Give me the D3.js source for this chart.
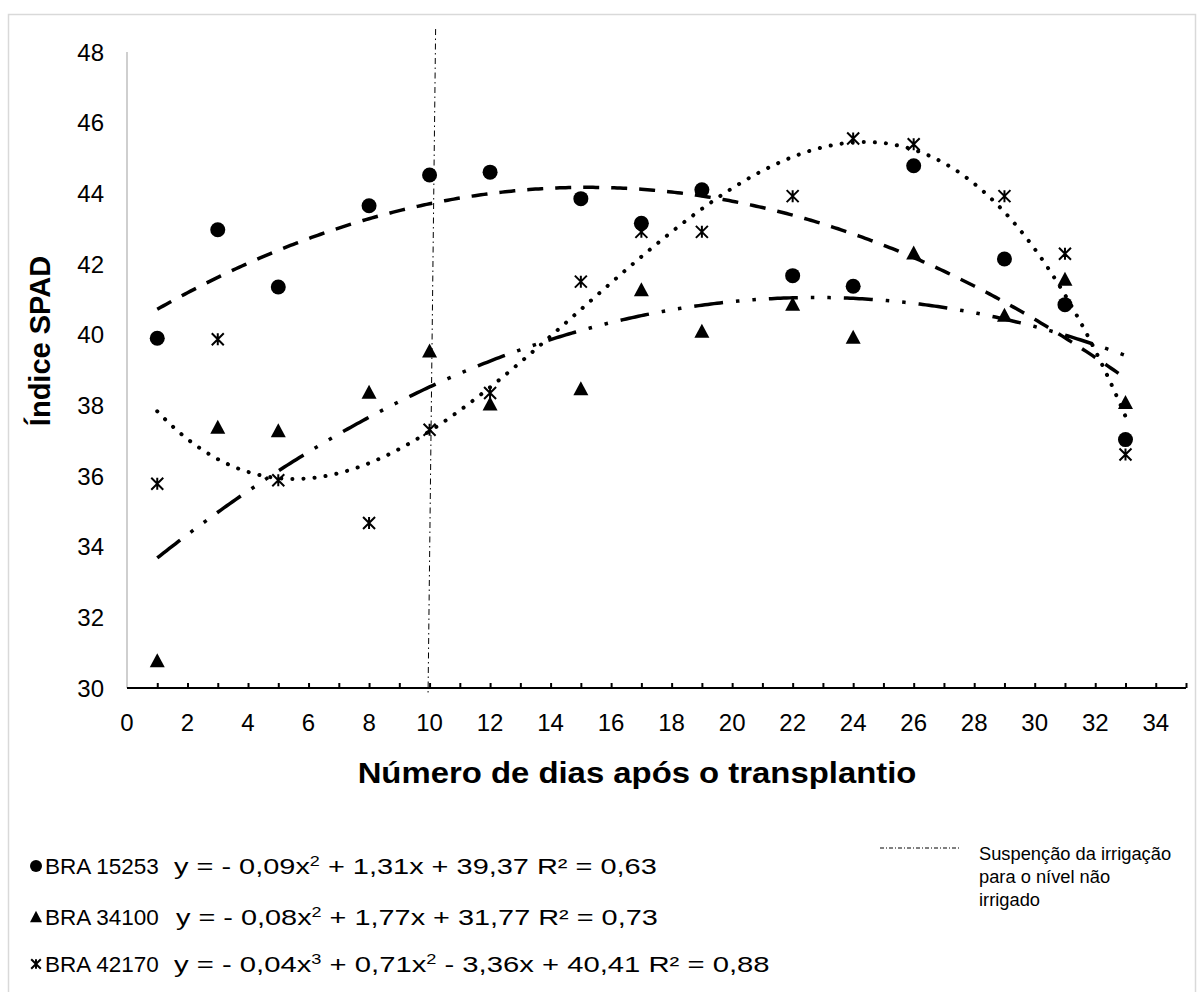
<!DOCTYPE html>
<html>
<head>
<meta charset="utf-8">
<script src="https://cdn.jsdelivr.net/npm/d3@7"></script>
<style>
  html, body { margin: 0; padding: 0; background: #fff; }
  svg { display: block; font-family: "Liberation Sans", Arial, sans-serif; }
</style>
</head>
<body>
<svg id="chart" width="1203" height="992"></svg>
<script>
// ---- data ----
const days = [1, 3, 5, 8, 10, 12, 15, 17, 19, 22, 24, 26, 29, 31, 33];
const bra15253 = [39.90, 42.97, 41.35, 43.65, 44.52, 44.60, 43.85, 43.15, 44.10, 41.67, 41.37, 44.78, 42.14, 40.85, 37.03];
const bra34100 = [30.77, 37.38, 37.28, 38.37, 39.54, 38.04, 38.47, 41.27, 40.10, 40.86, 39.93, 42.31, 40.55, 41.57, 38.08];
const bra42170 = [35.78, 39.87, 35.88, 34.67, 37.31, 38.35, 41.50, 42.91, 42.91, 43.92, 45.55, 45.39, 43.92, 42.29, 36.61];
const seriesNames = ["BRA 15253", "BRA 34100", "BRA 42170"];
const trendDegrees = [2, 2, 3];
const equations = [
  [["y = - 0,09x", ""], ["2", "sup"], [" + 1,31x + 39,37 R² = 0,63", ""]],
  [["y = - 0,08x", ""], ["2", "sup"], [" + 1,77x + 31,77 R² = 0,73", ""]],
  [["y = - 0,04x", ""], ["3", "sup"], [" + 0,71x", ""], ["2", "sup"], [" - 3,36x + 40,41 R² = 0,88", ""]]
];
const xTicks = d3.range(0, 35, 2);
const yTicks = d3.range(30, 49, 2);
const suspensionLine = [{x: 10.2, y: 48.65}, {x: 9.95, y: 29.85}];
const suspensionLabel = ["Suspenção da irrigação", "para o nível não", "irrigado"];
const xTitle = "Número de dias após o transplantio";
const yTitle = "Índice SPAD";

// ---- helpers ----
function polyfit(xs, ys, deg) {
  const n = deg + 1;
  const A = Array.from({length: n}, () => new Array(n + 1).fill(0));
  for (let i = 0; i < xs.length; i++) {
    for (let r = 0; r < n; r++) {
      for (let c = 0; c < n; c++) A[r][c] += Math.pow(xs[i], r + c);
      A[r][n] += ys[i] * Math.pow(xs[i], r);
    }
  }
  for (let k = 0; k < n; k++) {
    let p = k;
    for (let r = k + 1; r < n; r++) if (Math.abs(A[r][k]) > Math.abs(A[p][k])) p = r;
    [A[k], A[p]] = [A[p], A[k]];
    for (let r = k + 1; r < n; r++) {
      const f = A[r][k] / A[k][k];
      for (let c = k; c <= n; c++) A[r][c] -= f * A[k][c];
    }
  }
  const coef = new Array(n).fill(0);
  for (let k = n - 1; k >= 0; k--) {
    let s = A[k][n];
    for (let c = k + 1; c < n; c++) s -= A[k][c] * coef[c];
    coef[k] = s / A[k][k];
  }
  return x => coef.reduce((acc, a, i) => acc + a * Math.pow(x, i), 0);
}
// stretch a text horizontally (inside its own group) to a target width
function stretchTo(g, textSel, targetW) {
  const w = textSel.node().getBBox().width;
  const k = targetW / w;
  const t = g.attr("transform") || "";
  g.attr("transform", t + ` scale(${k},1)`);
}

// ---- layout ----
const svg = d3.select("#chart");
const x = d3.scaleLinear().domain([0, 35]).range([127, 1186]);
const y = d3.scaleLinear().domain([30, 48]).range([688, 52]);

// outer border
svg.append("rect").attr("x", 8.5).attr("y", 14.5).attr("width", 1187).attr("height", 1000)
  .attr("fill", "#fff").attr("stroke", "#d9d9d9").attr("stroke-width", 1.5);

// y axis (gray line, labels only)
svg.append("line").attr("x1", x(0)).attr("x2", x(0)).attr("y1", y(48)).attr("y2", y(30))
  .attr("stroke", "#bfbfbf").attr("stroke-width", 1.5);
svg.append("g").selectAll("text").data(yTicks).join("text")
  .attr("x", 104).attr("y", d => y(d)).attr("dy", "0.36em")
  .attr("text-anchor", "end").attr("font-size", 24).attr("fill", "#000")
  .text(d => d);

// x axis
const xAxis = d3.axisBottom(x).tickValues(d3.range(1, 36)).tickSize(-5).tickFormat("");
const gx = svg.append("g").attr("transform", `translate(0,${y(30)})`).call(xAxis);
gx.select(".domain").attr("stroke", "#000").attr("stroke-width", 2).attr("d", `M${x(0)},0H${x(35)}`);
gx.selectAll(".tick line").attr("stroke", "#000").attr("stroke-width", 2);
svg.append("g").selectAll("text").data(xTicks).join("text")
  .attr("x", d => x(d)).attr("y", 722).attr("dy", "0.36em")
  .attr("text-anchor", "middle").attr("font-size", 24).attr("fill", "#000")
  .text(d => d);

// titles
const gxt = svg.append("g").attr("transform", "translate(637,773)");
const xt = gxt.append("text").attr("dy", "0.36em")
  .attr("text-anchor", "middle").attr("font-size", 29).attr("font-weight", "bold").text(xTitle);
stretchTo(gxt, xt, 559);
svg.append("text").attr("transform", "translate(40,341) rotate(-90)").attr("dy", "0.36em")
  .attr("text-anchor", "middle").attr("font-size", 29).attr("font-weight", "bold").text(yTitle);

// suspension line
const line = d3.line().x(d => x(d.x)).y(d => y(d.y));
svg.append("path").datum(suspensionLine).attr("d", line)
  .attr("fill", "none").attr("stroke", "#000").attr("stroke-width", 1)
  .attr("stroke-dasharray", "6,3.5,1.5,3.5");

// trendlines
const allSeries = [bra15253, bra34100, bra42170];
const trendStyles = [
  {dash: "16,12", cap: "butt", width: 3.5},
  {dash: "29,13,3.5,13,3.5,13", cap: "butt", width: 3.5},
  {dash: "0.1,11", cap: "round", width: 4}
];
const curve = d3.line().x(d => x(d[0])).y(d => y(d[1]));
allSeries.forEach((vals, i) => {
  const f = polyfit(days, vals, trendDegrees[i]);
  const pts = d3.range(1, 33.001, 0.1).map(t => [t, f(t)]);
  svg.append("path").datum(pts).attr("d", curve)
    .attr("fill", "none").attr("stroke", "#000")
    .attr("stroke-width", trendStyles[i].width)
    .attr("stroke-dasharray", trendStyles[i].dash)
    .attr("stroke-linecap", trendStyles[i].cap);
});

// markers
function drawMarker(g, type, cx, cy, s) {
  if (type === 0) {
    g.append("circle").attr("cx", cx).attr("cy", cy).attr("r", 7.5 * s).attr("fill", "#000");
  } else if (type === 1) {
    const w = 7.5 * s, h = 13 * s;
    g.append("path").attr("d", `M${cx},${cy - h / 2 - 1}L${cx + w},${cy + h / 2}L${cx - w},${cy + h / 2}Z`).attr("fill", "#000");
  } else {
    const r = 6 * s;
    g.append("path").attr("d", `M${cx - r},${cy - r}L${cx + r},${cy + r}M${cx + r},${cy - r}L${cx - r},${cy + r}M${cx},${cy - r}L${cx},${cy + r}`)
      .attr("stroke", "#000").attr("stroke-width", 2).attr("fill", "none");
  }
}
const gm = svg.append("g");
allSeries.forEach((vals, i) => {
  vals.forEach((v, j) => drawMarker(gm, i, x(days[j]), y(v), 1));
});

// legend
const legendY = [866, 917, 964];
const eqStart = [174, 176, 174];
const eqWidth = [483, 482, 596];
const gl = svg.append("g");
seriesNames.forEach((name, i) => {
  drawMarker(gl, i, 36, legendY[i], 0.8);
  gl.append("text").attr("x", 45).attr("y", legendY[i]).attr("dy", "0.36em")
    .attr("font-size", 22.5).text(name);
  const ge = gl.append("g").attr("transform", `translate(${eqStart[i]},${legendY[i]})`);
  const t = ge.append("text").attr("dy", "0.36em").attr("font-size", 22.5);
  equations[i].forEach(([s, kind], k) => {
    const ts = t.append("tspan").text(s);
    if (kind === "sup") ts.attr("font-size", 14).attr("dy", "-0.6em");
    else if (k > 0) ts.attr("dy", "0.38em");
  });
  stretchTo(ge, t, eqWidth[i]);
});

// suspension legend
svg.append("line").attr("x1", 880).attr("x2", 959).attr("y1", 848).attr("y2", 848)
  .attr("stroke", "#000").attr("stroke-width", 1).attr("stroke-dasharray", "4,2,1,2");
svg.append("g").selectAll("text").data(suspensionLabel).join("text")
  .attr("x", 979).attr("y", (d, i) => 853 + i * 23).attr("dy", "0.36em")
  .attr("font-size", 18.3).text(d => d);
</script>
</body>
</html>
